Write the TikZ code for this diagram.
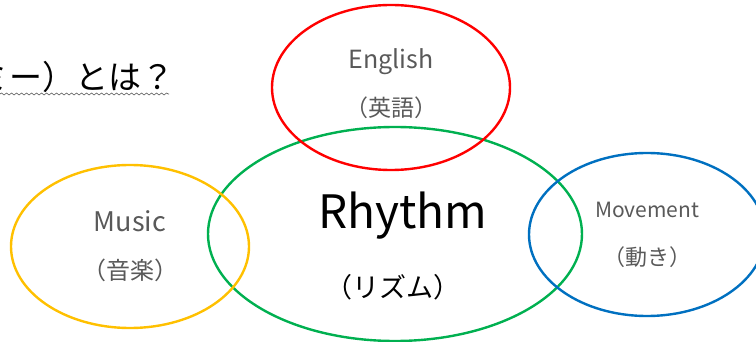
\documentclass[tikz,border=0pt]{standalone}
\usepackage{fontspec}
\setmainfont{Noto Sans CJK JP}
\usetikzlibrary{decorations.pathmorphing}
\definecolor{lbl}{HTML}{595959}
\definecolor{cred}{HTML}{FF0000}
\definecolor{cgreen}{HTML}{00B050}
\definecolor{cyellow}{HTML}{FFC000}
\definecolor{cblue}{HTML}{0070C0}
\tikzset{
  ring/.style={line width=2.4pt},
  lab/.style={text=lbl, inner sep=0pt, anchor=center},
}
\begin{document}
\begin{tikzpicture}[x=1pt,y=-1pt]
\useasboundingbox (0,0) rectangle (756,342);
\clip (0,0) rectangle (756,342);
% title fragment
\node[inner sep=0pt, anchor=base east, font=\fontsize{33}{35}\selectfont] (title) at (175,90) {ミー）とは？};
\coordinate (ul0) at (0,94);
\coordinate (ul1) at (169,94);
\draw[lbl, line width=0.6pt, decorate, decoration={snake, amplitude=1pt, segment length=5pt}] (ul0) -- (ul1);
% circles
\draw[ring, cgreen] (395,234) ellipse [x radius=187, y radius=107];
\draw[ring, cred] (391,87.5) ellipse [x radius=119, y radius=82.5];
\draw[ring, cyellow] (130,246.5) ellipse [x radius=119, y radius=81.5];
\draw[ring, cblue] (647,234.5) ellipse [x radius=118, y radius=81.5];
% labels
\node[lab, font=\fontsize{25}{28}\selectfont] (en) at (391,62) {English};
\node[lab, font=\fontsize{23}{26}\selectfont] (enj) at (391,108) {（英語）};
\node[lab, font=\fontsize{27}{30}\selectfont] (mu) at (130,221) {Music};
\node[lab, font=\fontsize{24}{26}\selectfont] (muj) at (130,270) {（音楽）};
\node[lab, font=\fontsize{21}{24}\selectfont] (mo) at (647,210) {Movement};
\node[lab, font=\fontsize{22}{24}\selectfont] (moj) at (647,257) {（動き）};
\node[inner sep=0pt, font=\fontsize{46}{50}\selectfont] (rh) at (403,216) {Rhythm};
\node[inner sep=0pt, font=\fontsize{27}{30}\selectfont] (rhj) at (393,287) {（リズム）};
\end{tikzpicture}
\end{document}
